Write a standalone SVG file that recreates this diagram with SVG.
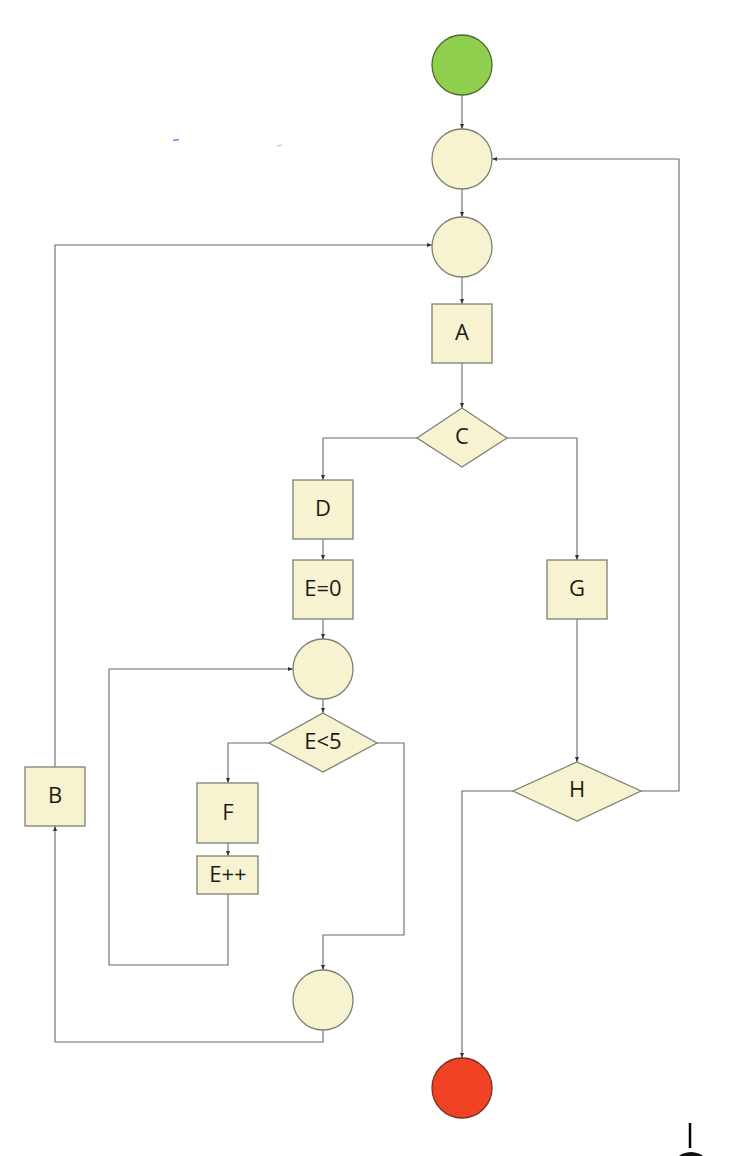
<svg xmlns="http://www.w3.org/2000/svg" width="752" height="1156" viewBox="0 0 752 1156">
<defs>
<marker id="ah" viewBox="0 0 10 10" refX="10" refY="5" markerWidth="5" markerHeight="5" orient="auto" markerUnits="userSpaceOnUse">
<path d="M0,1 L10,5 L0,9 z" fill="#333"/>
</marker>
<style>
.n{fill:#F7F3D1;stroke:#7F7F72;stroke-width:1.3}
.t{font-family:"Open Sans","Noto Sans",sans-serif;font-size:22px;fill:#1a1a1a;text-anchor:middle;dominant-baseline:central}
.c{fill:none;stroke:#6b6b6b;stroke-width:1.1;marker-end:url(#ah)}
</style>
</defs>
<rect width="752" height="1156" fill="#fff"/>
<g id="connectors">
<path class="c" d="M462,95 V129"/>
<path class="c" d="M462,189 V217"/>
<path class="c" d="M462,277 V304"/>
<path class="c" d="M462,363 V408"/>
<path class="c" d="M417,438 H323 V480"/>
<path class="c" d="M507,438 H577 V560"/>
<path class="c" d="M323,539 V560"/>
<path class="c" d="M323,619 V639"/>
<path class="c" d="M323,699 V713"/>
<path class="c" d="M269,743 H228 V783"/>
<path class="c" d="M228,843 V856"/>
<path class="c" d="M228,894 V965 H109 V669 H293"/>
<path class="c" d="M377,743 H404 V935 H323 V970"/>
<path class="c" d="M323,1030 V1042 H55 V826"/>
<path class="c" d="M55,767 V245 H432"/>
<path class="c" d="M577,619 V762"/>
<path class="c" d="M641,791 H679 V159 H492"/>
<path class="c" d="M513,791 H462 V1058"/>
</g>
<g id="start"><circle cx="462" cy="65" r="30" fill="#8FCF4E" stroke="#4E6B2E" stroke-width="1.3"/></g>
<g id="merge1"><circle class="n" cx="462" cy="159" r="30"/></g>
<g id="merge2"><circle class="n" cx="462" cy="247" r="30"/></g>
<g id="A"><rect class="n" x="432" y="304" width="60" height="59"/><text class="t" x="462" y="331">A</text></g>
<g id="C"><polygon class="n" points="462,408 507,438 462,467 417,438"/><text class="t" x="462" y="435">C</text></g>
<g id="D"><rect class="n" x="293" y="480" width="60" height="59"/><text class="t" x="323" y="507">D</text></g>
<g id="E0"><rect class="n" x="293" y="560" width="60" height="59"/><text class="t" x="323" y="587">E=0</text></g>
<g id="merge3"><circle class="n" cx="323" cy="669" r="30"/></g>
<g id="E5"><polygon class="n" points="323,713 377,743 323,772 269,743"/><text class="t" x="323" y="740">E&lt;5</text></g>
<g id="F"><rect class="n" x="197" y="783" width="61" height="60"/><text class="t" x="228" y="811">F</text></g>
<g id="Einc"><rect class="n" x="197" y="856" width="61" height="38"/><text class="t" x="228" y="873">E++</text></g>
<g id="merge4"><circle class="n" cx="323" cy="1000" r="30"/></g>
<g id="B"><rect class="n" x="25" y="767" width="60" height="59"/><text class="t" x="55" y="794">B</text></g>
<g id="G"><rect class="n" x="547" y="560" width="60" height="59"/><text class="t" x="577" y="587">G</text></g>
<g id="H"><polygon class="n" points="577,762 641,791 577,821 513,791"/><text class="t" x="577" y="788">H</text></g>
<g id="end"><circle cx="462" cy="1088" r="30" fill="#F04324" stroke="#7A2E1E" stroke-width="1.3"/></g>
<g id="artifacts">
<line x1="173" y1="140.5" x2="179" y2="139.5" stroke="#4a98ff" stroke-width="1.5"/>
<line x1="277" y1="146" x2="282" y2="145" stroke="#8cc0ff" stroke-width="1.2"/>
<line x1="690" y1="1123" x2="690" y2="1148" stroke="#000" stroke-width="2.5"/>
<circle cx="691" cy="1172" r="20" fill="#111"/>
</g>
</svg>
